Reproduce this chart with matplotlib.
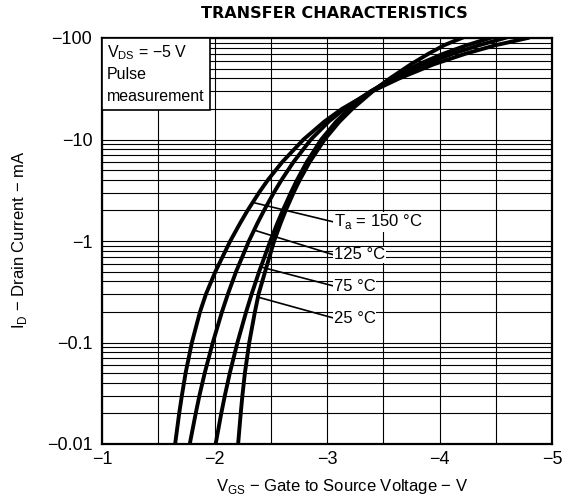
import numpy as np
import matplotlib.pyplot as plt
from matplotlib.patches import Rectangle
from matplotlib.ticker import LogLocator, FixedLocator, NullFormatter

plt.rcParams['font.family'] = ['Liberation Sans', 'DejaVu Sans']
plt.rcParams['mathtext.fontset'] = 'custom'
plt.rcParams['mathtext.rm'] = 'Liberation Sans'

# drain current (mA, magnitude) and gate-source voltage (V)
id_ma = [0.01, 0.02, 0.03, 0.05, 0.1, 0.2, 0.3, 0.5, 1, 1.5, 2, 3, 4, 6,
         10, 15, 20, 30, 40, 55, 70, 85, 100]
vgs_150 = [-1.65, -1.686, -1.710, -1.743, -1.799, -1.871, -1.924, -2.008, -2.140,
           -2.228, -2.294, -2.396, -2.475, -2.602, -2.791, -2.976, -3.132, -3.405,
           -3.643, -3.947, -4.231, -4.500, -4.784]
vgs_125 = [-1.78, -1.833, -1.866, -1.913, -1.985, -2.066, -2.119, -2.192, -2.306,
           -2.382, -2.440, -2.528, -2.596, -2.702, -2.857, -3.015, -3.153, -3.391,
           -3.591, -3.867, -4.119, -4.354, -4.581]
vgs_75 = [-2.01, -2.060, -2.092, -2.136, -2.204, -2.281, -2.330, -2.397, -2.496,
          -2.559, -2.607, -2.679, -2.734, -2.820, -2.949, -3.081, -3.196, -3.398,
          -3.571, -3.813, -4.034, -4.244, -4.450]
vgs_25 = [-2.21, -2.233, -2.248, -2.270, -2.309, -2.359, -2.392, -2.450, -2.530,
          -2.588, -2.633, -2.703, -2.758, -2.846, -2.979, -3.111, -3.224, -3.409,
          -3.559, -3.745, -3.903, -4.042, -4.198]

curve_labels = [r"T$_\mathregular{a}$ = 150 °C", "125 °C", "75 °C", "25 °C"]
leader_currents = [2.4, 1.28, 0.555, 0.28]
label_currents = [1.54, 0.73, 0.36, 0.174]

x_ticks = [-1, -2, -3, -4, -5]
x_ticklabels = ["−1", "−2", "−3", "−4", "−5"]
y_ticks = [0.01, 0.1, 1, 10, 100]
y_ticklabels = ["−0.01", "−0.1", "−1", "−10", "−100"]

fig = plt.figure(figsize=(5.69, 5.04), dpi=100)
ax = fig.add_axes([102 / 569, 1 - 444 / 504, 450 / 569, 406 / 504])

ax.set_yscale("log")
ax.set_xlim(-1, -5)
ax.set_ylim(0.01, 100)

ax.set_xticks(x_ticks)
ax.set_xticklabels(x_ticklabels, fontsize=13)
ax.xaxis.set_minor_locator(FixedLocator(np.arange(-1.5, -5, -1.0)))
ax.set_yticks(y_ticks)
ax.set_yticklabels(y_ticklabels, fontsize=13)
ax.yaxis.set_minor_locator(LogLocator(base=10, subs=np.arange(2, 10)))
ax.yaxis.set_minor_formatter(NullFormatter())
ax.tick_params(which="both", length=0)
ax.tick_params(axis="x", pad=5)
ax.tick_params(axis="y", pad=7)

ax.grid(which="both", color="black", lw=0.8, zorder=0)
ax.set_axisbelow(True)
for s in ax.spines.values():
    s.set_linewidth(1.6)

curves = [vgs_150, vgs_125, vgs_75, vgs_25]
for v in curves:
    ax.plot(v, id_ma, color="black", lw=2.8, zorder=2)

# condition box in the upper-left corner
ax.add_patch(Rectangle((0, 1 - 72 / 406), 108 / 450, 72 / 406, transform=ax.transAxes,
                       facecolor="white", edgecolor="black", lw=1.2, zorder=4))
ax.text(0.011, 0.965, r"V$_\mathregular{DS}$ = −5 V", transform=ax.transAxes,
        fontsize=11.5, va="center", ha="left", zorder=5)
ax.text(0.011, 0.911, "Pulse", transform=ax.transAxes,
        fontsize=11.5, va="center", ha="left", zorder=5)
ax.text(0.011, 0.855, "measurement", transform=ax.transAxes,
        fontsize=11.5, va="center", ha="left", zorder=5)

for v, lab, lc, tc in zip(curves, curve_labels, leader_currents, label_currents):
    xv = np.interp(np.log10(lc), np.log10(id_ma), v)
    ax.annotate(lab, xy=(xv, lc), xytext=(-3.06, tc), fontsize=12,
                va="center", ha="left", zorder=5,
                bbox=dict(boxstyle="square,pad=0.05", fc="white", ec="none"),
                arrowprops=dict(arrowstyle="-", lw=1.2, color="black",
                                shrinkA=0, shrinkB=0, relpos=(0, 0.5)))

fig.text(334 / 569, 1 - 14 / 504, "TRANSFER CHARACTERISTICS", ha="center", va="center",
         fontsize=11.5, fontweight="bold", family="DejaVu Sans")
fig.text(342 / 569, 1 - 487 / 504, r"V$_\mathregular{GS}$ − Gate to Source Voltage − V",
         ha="center", va="center", fontsize=12)
fig.text(20 / 569, 1 - 240 / 504, r"I$_\mathregular{D}$ − Drain Current − mA",
         ha="center", va="center", rotation=90, fontsize=12)

fig.savefig("out.png", dpi=100)
